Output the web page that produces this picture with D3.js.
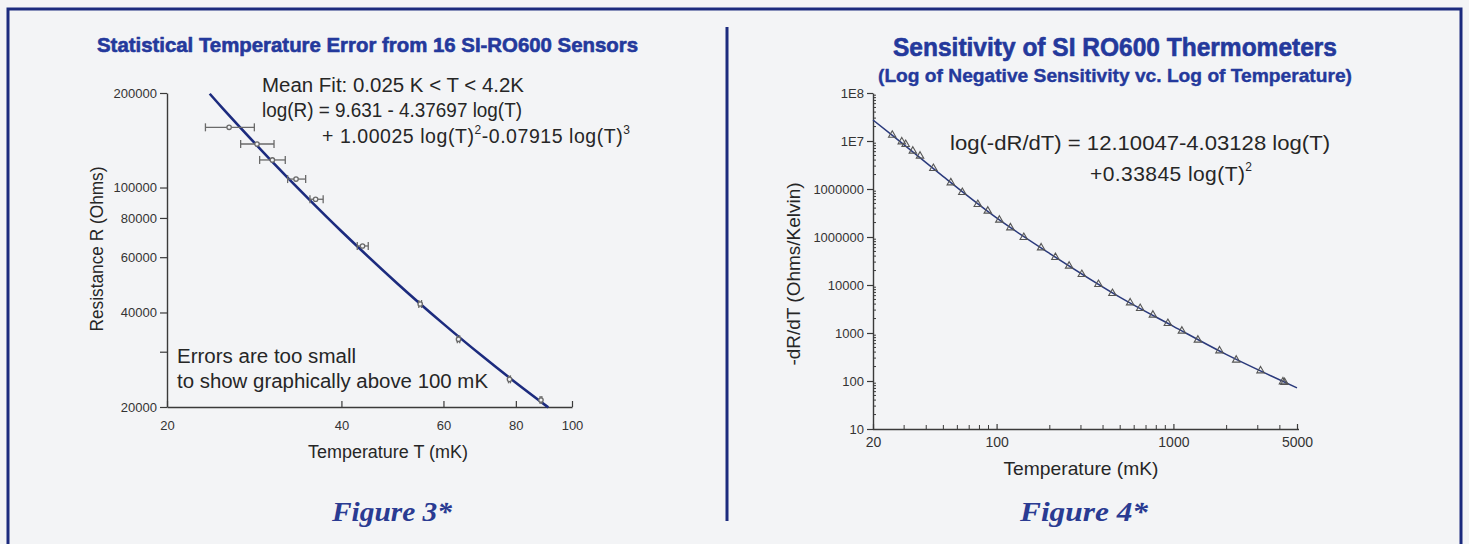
<!DOCTYPE html>
<html><head><meta charset="utf-8">
<script src="https://cdn.jsdelivr.net/npm/d3@7"></script>
<style>html,body{margin:0;padding:0;background:#f3f4f6;}svg{display:block}</style>
</head><body>
<svg id="c" width="1469" height="544"></svg>
<script>
// ---------- Figure 3 data ----------
const fig3T     = [25.6, 28.6, 30.4, 33.4, 36.1, 43.5, 54.7, 63.7, 78.0, 88.4];
const fig3R     = [155500, 137600, 122400, 106400, 91750, 65140, 42560, 32860, 24500, 21050];
const fig3TLow  = [23.3, 26.8, 28.9, 32.3, 35.3, 42.6, 54.4, 63.4, 77.7, 88.1];
const fig3THigh = [28.3, 30.6, 32.0, 34.7, 37.2, 44.5, 55.0, 64.0, 78.3, 88.7];
const fig3FitT  = [23.7, 25, 30, 35, 40, 50, 60, 70, 80, 91];
const fig3FitR  = [198900, 178100, 123900, 92480, 72550, 49400, 36790, 29050, 23890, 19950];
const fig3XTicks  = [20, 40, 60, 80, 100];
const fig3XLabels = ["20", "40", "60", "80", "100"];
const fig3YTicks  = [20000, 30000, 40000, 60000, 80000, 100000, 200000];
const fig3YLabels = ["20000", "", "40000", "60000", "80000", "100000", "200000"];

// ---------- Figure 4 data ----------
const fig4T = [25.7, 29.1, 30.6, 33.6, 36.9, 43.9, 55.1, 64.0, 78.3, 89.2, 103.7, 119.7, 142.5, 178.6, 215.1,
               257.2, 303.5, 376.8, 452.1, 569.4, 648.7, 765.6, 930.6, 1117, 1376, 1823, 2266, 3111, 4166, 4250];
const fig4S = [1.33e7, 9.67e6, 8.53e6, 6.19e6, 4.87e6, 2.70e6, 1.353e6, 8.54e5, 4.80e5, 3.48e5, 2.26e5, 1.563e5,
               9.86e4, 5.984e4, 3.776e4, 2.488e4, 1.671e4, 1.034e4, 6714, 4278, 3270, 2371, 1592, 1101, 714.7,
               427.8, 273.8, 163.9, 96.7, 94];
const fig4FitT = [20, 30, 50, 100, 200, 500, 1000, 2000, 5000];
const fig4FitS = [2.74e7, 8.3e6, 1.81e6, 2.5e5, 45200, 5520, 1377, 354, 72];
const fig4XTicks  = [20, 100, 1000, 5000];
const fig4XLabels = ["20", "100", "1000", "5000"];
const fig4YTicks  = [10, 100, 1e3, 1e4, 1e5, 1e6, 1e7, 1e8];
const fig4YLabels = ["10", "100", "1000", "10000", "1000000", "1000000", "1E7", "1E8"];
const fig4XMinor = [30, 40, 50, 60, 70, 80, 90, 200, 300, 400, 500, 600, 700, 800, 900, 2000, 3000, 4000];
const fig4YMinor = [];
for (let k = 1; k < 8; k++) for (let m = 2; m <= 9; m++) fig4YMinor.push(m * Math.pow(10, k));

// ---------- styles ----------
const SANS = "'Liberation Sans', Arial, Helvetica, sans-serif";
const SERIF = "'Liberation Serif', 'DejaVu Serif', serif";
const NAVY = "#1c2b7e";
const TITLE = "#24399c";
const INK = "#262626";

const svg = d3.select("#c");

// frame
svg.append("rect").attr("x", 8).attr("y", 9).attr("width", 1453).attr("height", 560)
  .attr("fill", "none").attr("stroke", NAVY).attr("stroke-width", 3);
svg.append("line").attr("x1", 727).attr("x2", 727).attr("y1", 27).attr("y2", 521)
  .attr("stroke", NAVY).attr("stroke-width", 3);

function txt(x, y, s, size, opts = {}) {
  const t = svg.append("text").attr("x", x).attr("y", y).text(s)
    .attr("font-family", opts.family || SANS).attr("font-size", size)
    .attr("fill", opts.fill || INK)
    .attr("text-anchor", opts.anchor || "start");
  if (opts.weight) t.attr("font-weight", opts.weight);
  if (opts.style) t.attr("font-style", opts.style);
  if (opts.stroke) t.attr("stroke", opts.fill).attr("stroke-width", opts.stroke).attr("stroke-linejoin", "round");
  if (opts.len) t.attr("textLength", opts.len).attr("lengthAdjust", opts.adjust || "spacingAndGlyphs");
  return t;
}

// ================= Figure 3 =================
const x3 = d3.scaleLog().domain([20, 100]).range([167, 572]);
const y3 = d3.scaleLog().domain([20000, 200000]).range([407, 93]);

txt(367.5, 52, "Statistical Temperature Error from 16 SI-RO600 Sensors", 20.5,
  {weight: "bold", fill: TITLE, anchor: "middle", len: 541, stroke: 0.6});

const ax3y = svg.append("g").attr("transform", "translate(167,0)")
  .call(d3.axisLeft(y3).tickValues(fig3YTicks).tickFormat((d, i) => fig3YLabels[i])
    .tickSizeInner(7).tickSizeOuter(0).tickPadding(3));
const ax3x = svg.append("g").attr("transform", "translate(0,407)")
  .call(d3.axisBottom(x3).tickValues(fig3XTicks).tickFormat((d, i) => fig3XLabels[i])
    .tickSizeInner(-6).tickSizeOuter(0).tickPadding(14));
[ax3y, ax3x].forEach(g => {
  g.select(".domain").attr("stroke", "#3a3a3a").attr("stroke-width", 1.4);
  g.selectAll(".tick line").attr("stroke", "#3a3a3a").attr("stroke-width", 1.2);
  g.selectAll(".tick text").attr("font-family", SANS).attr("font-size", 13).attr("fill", "#333");
});

txt(388, 458, "Temperature T (mK)", 17.5, {anchor: "middle", len: 160});
txt(0, 0, "Resistance R (Ohms)", 17.5, {anchor: "middle", len: 165})
  .attr("transform", "translate(103,249) rotate(-90)");

// fit line
const fit3 = fig3FitT.map((t, i) => [x3(t), y3(fig3FitR[i])]);
svg.append("path").attr("d", d3.line().curve(d3.curveCatmullRom)(fit3))
  .attr("fill", "none").attr("stroke", NAVY).attr("stroke-width", 2.6);

// error bars + points
const eb = svg.append("g").attr("stroke", "#6a6a6a").attr("stroke-width", 1.3).attr("fill", "none");
fig3T.forEach((t, i) => {
  const cy = y3(fig3R[i]);
  const xl = x3(fig3TLow[i]), xh = x3(fig3THigh[i]);
  eb.append("line").attr("x1", xl).attr("x2", xh).attr("y1", cy).attr("y2", cy);
  eb.append("line").attr("x1", xl).attr("x2", xl).attr("y1", cy - 4).attr("y2", cy + 4);
  eb.append("line").attr("x1", xh).attr("x2", xh).attr("y1", cy - 4).attr("y2", cy + 4);
  eb.append("circle").attr("cx", x3(t)).attr("cy", cy).attr("r", 2.2).attr("fill", "#f3f4f6");
});

// annotations
txt(262, 92, "Mean Fit: 0.025 K < T < 4.2K", 19.5, {len: 262});
txt(262, 117, "log(R) = 9.631 - 4.37697 log(T)", 19.5, {len: 260});
{
  const t = svg.append("text").attr("x", 322).attr("y", 143)
    .attr("font-family", SANS).attr("font-size", 19.5).attr("fill", INK)
    .attr("textLength", 308).attr("lengthAdjust", "spacing");
  t.append("tspan").text("+ 1.00025 log(T)");
  t.append("tspan").text("2").attr("font-size", 12).attr("dy", -9);
  t.append("tspan").text("-0.07915 log(T)").attr("dy", 9);
  t.append("tspan").text("3").attr("font-size", 12).attr("dy", -9);
}
txt(177, 363, "Errors are too small", 20, {len: 179});
txt(177, 388, "to show graphically above 100 mK", 20, {len: 311});

txt(392, 521, "Figure 3*", 27, {family: SERIF, weight: "bold", style: "italic", fill: "#2a3b92", anchor: "middle", len: 120});

// ================= Figure 4 =================
const x4 = d3.scaleLog().domain([20, 5000]).range([873, 1297]);
const y4 = d3.scaleLog().domain([10, 1e8]).range([429, 93]);

txt(1115, 56, "Sensitivity of SI RO600 Thermometers", 25,
  {weight: "bold", fill: TITLE, anchor: "middle", len: 444, stroke: 0.6});
txt(1115, 82, "(Log of Negative Sensitivity vc. Log of Temperature)", 19,
  {weight: "bold", fill: TITLE, anchor: "middle", len: 474, stroke: 0.4});

// minor ticks
const mg = svg.append("g").attr("stroke", "#3a3a3a").attr("stroke-width", 1);
fig4YMinor.forEach(v => {
  mg.append("line").attr("x1", 873).attr("x2", 876).attr("y1", y4(v)).attr("y2", y4(v));
});
fig4XMinor.forEach(v => {
  mg.append("line").attr("x1", x4(v)).attr("x2", x4(v)).attr("y1", 429).attr("y2", 425);
});

const ax4y = svg.append("g").attr("transform", "translate(873,0)")
  .call(d3.axisLeft(y4).tickValues(fig4YTicks).tickFormat((d, i) => fig4YLabels[i])
    .tickSizeInner(6).tickSizeOuter(0).tickPadding(3));
const ax4x = svg.append("g").attr("transform", "translate(0,429)")
  .call(d3.axisBottom(x4).tickValues(fig4XTicks).tickFormat((d, i) => fig4XLabels[i])
    .tickSizeInner(-5).tickSizeOuter(0).tickPadding(8));
ax4x.select(".domain").attr("d", "M873,0.5H1299");
[ax4y, ax4x].forEach(g => {
  g.select(".domain").attr("stroke", "#3a3a3a").attr("stroke-width", 1.4);
  g.selectAll(".tick line").attr("stroke", "#3a3a3a").attr("stroke-width", 1.2);
});
ax4y.selectAll(".tick text").attr("font-family", SANS).attr("font-size", 13).attr("fill", "#333");
ax4x.selectAll(".tick text").attr("font-family", SANS).attr("font-size", 14).attr("fill", "#333");

txt(1081, 475, "Temperature (mK)", 19, {anchor: "middle", len: 155});
txt(0, 0, "-dR/dT (Ohms/Kelvin)", 18.5, {anchor: "middle", len: 183})
  .attr("transform", "translate(800,274) rotate(-90)");

const fit4 = fig4FitT.map((t, i) => [x4(t), y4(fig4FitS[i])]);
svg.append("path").attr("d", d3.line().curve(d3.curveCatmullRom)(fit4))
  .attr("fill", "none").attr("stroke", "#2b3a7c").attr("stroke-width", 1.5);

const sym = d3.symbol().type(d3.symbolTriangle).size(24);
svg.append("g").selectAll("path").data(fig4T).join("path")
  .attr("d", sym)
  .attr("transform", (t, i) => `translate(${x4(t)},${y4(fig4S[i])})`)
  .attr("fill", "none").attr("stroke", "#555").attr("stroke-width", 1.1);

txt(950, 150, "log(-dR/dT) = 12.10047-4.03128 log(T)", 21, {len: 380});
{
  const t = svg.append("text").attr("x", 1090).attr("y", 181)
    .attr("font-family", SANS).attr("font-size", 21).attr("fill", INK)
    .attr("textLength", 162).attr("lengthAdjust", "spacing");
  t.append("tspan").text("+0.33845 log(T)");
  t.append("tspan").text("2").attr("font-size", 12).attr("dy", -10);
}

txt(1084, 521, "Figure 4*", 27, {family: SERIF, weight: "bold", style: "italic", fill: "#2a3b92", anchor: "middle", len: 128});
</script>
</body></html>
